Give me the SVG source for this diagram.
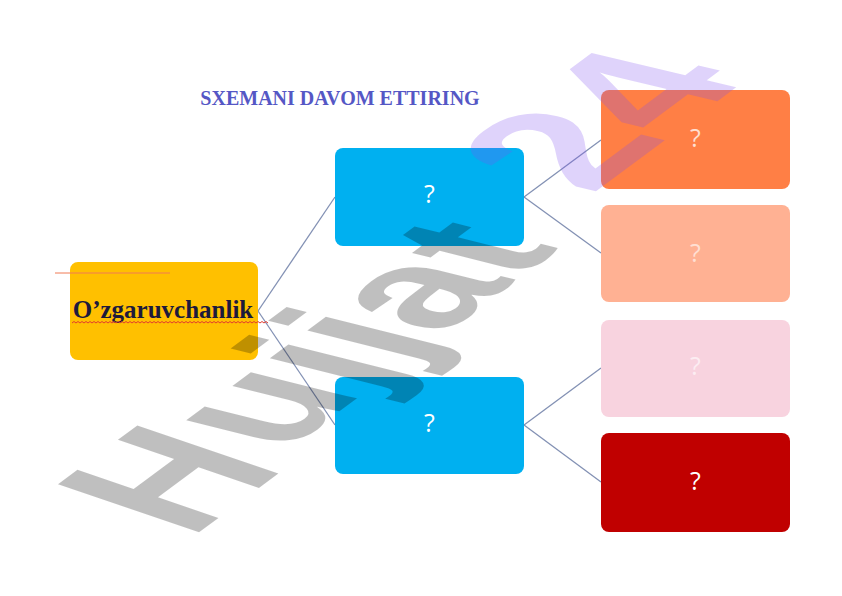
<svg xmlns="http://www.w3.org/2000/svg" width="842" height="596" viewBox="0 0 842 596">
<style>
.box{stroke:none}
.q{font-family:"Open Sans","Liberation Sans",sans-serif;font-size:25px;fill:#ffffff;text-anchor:middle}
.conn{stroke:#8391b4;stroke-width:1.3;fill:none}
.wm{font-family:"Liberation Sans",Arial,sans-serif;font-weight:bold;font-size:100px}
.gray{fill:#000000;fill-opacity:0.25}
.purple{fill:#7f4ff0;fill-opacity:0.25}
</style>
<rect width="842" height="596" fill="#ffffff"/>
<text x="340" y="105" font-family="'Liberation Serif','Times New Roman',serif" font-weight="bold" font-size="20" fill="#5557c5" text-anchor="middle">SXEMANI DAVOM ETTIRING</text>
<g id="connectors">
<line class="conn" x1="258" y1="311" x2="335" y2="197"/>
<line class="conn" x1="258" y1="311" x2="335" y2="425"/>
<line class="conn" x1="524" y1="197" x2="601" y2="140"/>
<line class="conn" x1="524" y1="197" x2="601" y2="253"/>
<line class="conn" x1="524" y1="425" x2="601" y2="368"/>
<line class="conn" x1="524" y1="425" x2="601" y2="482"/>
</g>
<g id="node-root">
<rect class="box" x="70" y="262" width="188" height="98" rx="8" fill="#ffc000"/>
<line x1="55" y1="273" x2="170" y2="273" stroke="#f07a55" stroke-width="1"/>
<text x="163" y="318" font-family="'Liberation Serif','Times New Roman',serif" font-weight="bold" font-size="25" fill="#1d1a3c" text-anchor="middle">O’zgaruvchanlik</text>
<path d="M72 323 l2 -1.5 l2 1.5 l2 -1.5 l2 1.5 l2 -1.5 l2 1.5 l2 -1.5 l2 1.5 l2 -1.5 l2 1.5 l2 -1.5 l2 1.5 l2 -1.5 l2 1.5 l2 -1.5 l2 1.5 l2 -1.5 l2 1.5 l2 -1.5 l2 1.5 l2 -1.5 l2 1.5 l2 -1.5 l2 1.5 l2 -1.5 l2 1.5 l2 -1.5 l2 1.5 l2 -1.5 l2 1.5 l2 -1.5 l2 1.5 l2 -1.5 l2 1.5 l2 -1.5 l2 1.5 l2 -1.5 l2 1.5 l2 -1.5 l2 1.5 l2 -1.5 l2 1.5 l2 -1.5 l2 1.5 l2 -1.5 l2 1.5 l2 -1.5 l2 1.5 l2 -1.5 l2 1.5 l2 -1.5 l2 1.5 l2 -1.5 l2 1.5 l2 -1.5 l2 1.5 l2 -1.5 l2 1.5 l2 -1.5 l2 1.5 l2 -1.5 l2 1.5 l2 -1.5 l2 1.5 l2 -1.5 l2 1.5 l2 -1.5 l2 1.5 l2 -1.5 l2 1.5 l2 -1.5 l2 1.5 l2 -1.5 l2 1.5 l2 -1.5 l2 1.5 l2 -1.5 l2 1.5 l2 -1.5 l2 1.5 l2 -1.5 l2 1.5 l2 -1.5 l2 1.5 l2 -1.5 l2 1.5 l2 -1.5 l2 1.5 l2 -1.5 l2 1.5 l2 -1.5 l2 1.5 l2 -1.5 l2 1.5 l2 -1.5 l2 1.5 l2 -1.5 l2 1.5" fill="none" stroke="#e23b2e" stroke-width="1"/>
</g>
<g id="node-mid-top">
<rect class="box" x="335" y="148" width="189" height="98" rx="8" fill="#00b0f0"/>
<text class="q" x="429.5" y="203">?</text>
</g>
<g id="node-mid-bottom">
<rect class="box" x="335" y="377" width="189" height="97" rx="8" fill="#00b0f0"/>
<text class="q" x="429.5" y="432">?</text>
</g>
<g id="node-r1">
<rect class="box" x="601" y="90" width="189" height="99" rx="8" fill="#ff7f45"/>
<text class="q" x="695.5" y="147" fill-opacity="0.75">?</text>
</g>
<g id="node-r2">
<rect class="box" x="601" y="205" width="189" height="97" rx="8" fill="#ffb193"/>
<text class="q" x="695.5" y="262" fill-opacity="0.6">?</text>
</g>
<g id="node-r3">
<rect class="box" x="601" y="320" width="189" height="97" rx="8" fill="#f8d3df"/>
<text class="q" x="695.5" y="375" fill-opacity="0.6">?</text>
</g>
<g id="node-r4">
<rect class="box" x="601" y="433" width="189" height="99" rx="8" fill="#c00000"/>
<text class="q" x="695.5" y="490">?</text>
</g>
<g id="watermark">
<text class="wm gray" transform="matrix(1.35 -1.00 2.05 0.70 190 539)">H</text>
<text class="wm gray" transform="matrix(1.35 -1.00 2.00 0.50 186 525)" x="72.2">ujjat</text>
<text class="wm purple" transform="matrix(1.43 -1.06 2.10 0.50 591 195)">24</text>
</g>
</svg>
